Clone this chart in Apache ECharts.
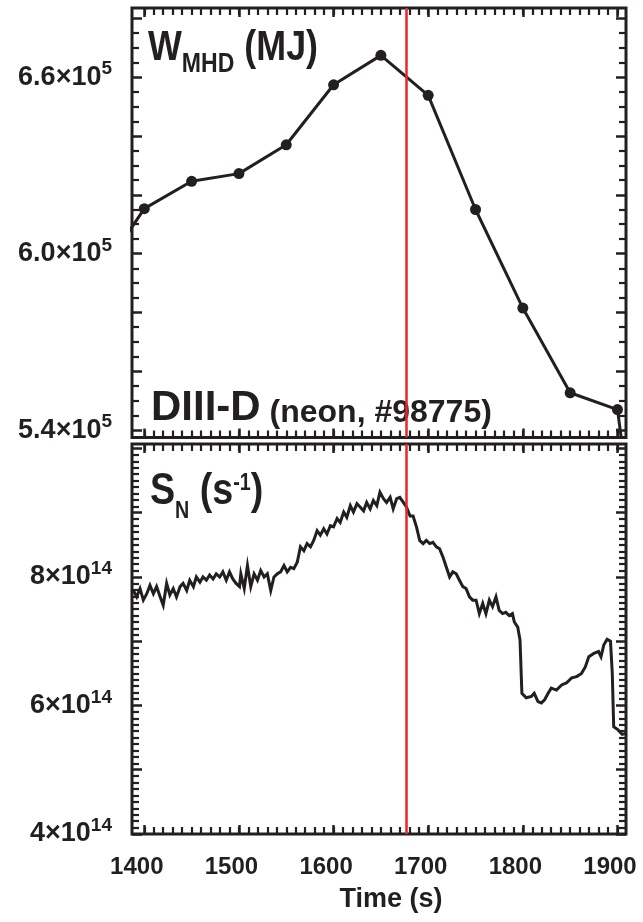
<!DOCTYPE html>
<html><head><meta charset="utf-8">
<script src="https://cdn.jsdelivr.net/npm/echarts@6/dist/echarts.min.js"></script>
<style>html,body{margin:0;padding:0;background:#fff}#c{width:643px;height:922px}</style>
</head><body><div id="c"></div>
<script>
// ---- data ----
const W_TIME = [1380,1400,1450,1500,1550,1600,1650,1700,1750,1800,1850,1900,1907];
const W_MHD  = [605700,615300,624600,627200,637000,657400,667400,653800,615000,581500,552700,547000,530000];

const SN_TIME = [1386,1388.5,1392,1395.5,1399,1402.6,1406,1409.6,1413,1416.8,1420,1423.6,1427,1430.6,1434,1437.8,1441,1444.8,1448,1451.9,1455,1458.8,1462,1465.6,1469,1472.7,1476,1479.7,1483,1486.6,1490,1493.5,1497,1500.6,1502,1505.6,1509,1512.5,1516,1519.6,1523,1526.6,1530,1533.6,1537,1540.6,1544,1547.6,1551,1554.6,1558,1561.6,1565,1568.6,1572,1575.6,1579,1582.6,1586,1589.6,1593,1596.6,1600,1603.7,1607,1610.7,1614,1617.7,1621,1624.7,1628,1631.7,1635,1638.7,1642,1645.7,1649,1652.7,1656,1659.8,1663,1666.7,1670,1673.7,1677,1680.8,1684,1687.6,1691,1694.6,1698,1701.6,1705,1708.6,1712,1715.6,1719,1722.6,1726,1729.6,1733,1736.6,1740,1743.6,1747,1750.6,1754,1757.6,1761,1764.6,1768,1771.6,1775,1778.6,1782,1785.6,1789,1791,1794.6,1797,1799,1803.6,1809,1812,1816,1819.5,1823,1826.7,1830,1835.5,1841,1846,1851.6,1856.9,1862,1866,1869.7,1875,1880,1882.6,1885.5,1889,1892.6,1894.5,1896,1900.6,1905,1910];
const SN_E14 = [7.80,7.79,7.69,7.82,7.64,7.74,7.87,7.74,7.85,7.69,7.56,7.90,7.72,7.82,7.69,7.85,7.90,7.79,7.95,7.85,8.00,7.92,8.00,7.95,8.03,7.97,8.05,8.00,8.08,7.95,8.08,7.97,7.90,7.85,8.05,7.82,8.18,7.85,8.05,7.95,8.10,8.00,8.05,7.79,8.00,8.05,8.08,8.18,8.08,8.15,8.13,8.23,8.47,8.41,8.52,8.47,8.57,8.72,8.65,8.75,8.67,8.80,8.78,8.91,8.85,9.01,8.93,9.11,9.01,9.14,9.09,9.03,9.16,9.06,9.19,9.11,9.32,9.22,9.16,9.24,9.06,9.22,9.24,9.16,9.09,8.95,8.95,8.78,8.57,8.52,8.57,8.52,8.54,8.47,8.44,8.31,8.16,8.00,8.08,8.05,7.95,7.85,7.82,7.69,7.64,7.64,7.43,7.59,7.43,7.64,7.54,7.69,7.48,7.43,7.45,7.40,7.43,7.30,7.22,7.02,6.19,6.12,6.14,6.19,6.06,6.04,6.09,6.19,6.27,6.24,6.32,6.35,6.43,6.45,6.50,6.60,6.76,6.81,6.84,6.76,6.94,7.03,7.00,6.50,5.67,5.62,5.55,5.57];

// tick layout (major step, minor step) and labelled values
const X_FIRST = 1400, X_LAST = 1900, X_STEP = 100, X_MINOR = 10;
const X_LABELS = [1400,1500,1600,1700,1800,1900];
const W_FIRST = 540000, W_LAST = 680000, W_STEP = 20000, W_MINOR_STEP = 5000;
const W_LABELS = [540000,600000,660000];
const SN_FIRST = 4, SN_LAST = 10, SN_STEP = 1, SN_MINOR_STEP = 0.1;
const SN_LABELS = [4,6,8];
const T_MARK = 1677;

// ---- layout / style ----
const X_MIN = 1387, X_MAX = 1909;
const W_MIN = 537500, W_MAX = 683500;
const SN_MIN = 4, SN_MAX = 10.07;
const INK = '#231f20';
const RED = '#e8262b';
const SANS = "'Liberation Sans',Arial,Helvetica,sans-serif";
const CW = 643;

const G_TOP = { left: 132, right: 17, top: 8, height: 429.5 };
const G_BOT = { left: 132, right: 17, top: 444, height: 390 };
const PW = CW - G_TOP.left - G_TOP.right;

function xpx(v) { return G_TOP.left + (v - X_MIN) / (X_MAX - X_MIN) * PW; }
function ypx(g, v, min, max) { return g.top + (max - v) / (max - min) * g.height; }
function framed(g) { return Object.assign({ show: true, borderColor: INK, borderWidth: 3, backgroundColor: 'transparent', outerBoundsMode: 'none', containLabel: false }, g); }

function hiddenAxis(grid) { return { type: 'value', gridIndex: grid, min: 0, max: 1, show: false }; }
function mainAxis(grid, pos, min, max, label) {
  return { type: 'value', gridIndex: grid, position: pos, min: min, max: max,
    axisLine: { show: false }, splitLine: { show: false }, axisTick: { show: false },
    axisLabel: label || { show: false } };
}
function tickAxis(grid, pos, span, step, len, width) {
  return { type: 'value', gridIndex: grid, position: pos, min: 0, max: span, interval: step,
    axisLine: { show: false }, splitLine: { show: false }, axisLabel: { show: false },
    axisTick: { show: true, inside: true, length: len, lineStyle: { color: INK, width: width } } };
}

const yRich = {
  m: { fontFamily: SANS, fontWeight: 'bold', fontSize: 27, color: INK },
  s: { fontFamily: SANS, fontWeight: 'bold', fontSize: 19, color: INK, padding: [0, 0, 16, 0] }
};
const xLabel = { show: true, customValues: X_LABELS, formatter: function (v) { return String(v); },
  fontFamily: SANS, fontWeight: 'bold', fontSize: 24, color: INK, margin: 21, padding: [0, 15, 0, 0] };
const wLabel = { show: true, customValues: W_LABELS, margin: 20, rich: yRich,
  formatter: function (v) { return '{m|' + (v / 1e5).toFixed(1) + '×10}{s|5}'; } };
const snLabel = { show: true, customValues: SN_LABELS, margin: 20, rich: yRich,
  formatter: function (v) { return '{m|' + v + '×10}{s|14}'; } };

const grids = [framed(G_TOP), framed(G_BOT)];
const xBottomMain = mainAxis(1, 'bottom', X_MIN, X_MAX, xLabel);
xBottomMain.name = 'Time (s)';
xBottomMain.nameLocation = 'middle';
xBottomMain.nameGap = 52;
xBottomMain.nameTextStyle = { fontFamily: SANS, fontWeight: 'bold', fontSize: 27, color: INK, padding: [0, 0, 0, 24] };
const xAxes = [mainAxis(0, 'bottom', X_MIN, X_MAX), xBottomMain];
const yAxes = [mainAxis(0, 'left', W_MIN, W_MAX, wLabel), mainAxis(1, 'left', SN_MIN, SN_MAX, snLabel)];
const holders = [];

// tick-only overlay grids: each carries ticks spaced widely enough to be drawn,
// several shifted copies together give the dense minor ticks of the frame
function addXOverlay(g, start, span, step, len, width) {
  const gi = grids.length;
  const l = xpx(start), r = xpx(start + span);
  grids.push({ left: l, width: r - l, top: g.top, height: g.height, show: false, outerBoundsMode: 'none', containLabel: false });
  const xi = xAxes.length;
  xAxes.push(tickAxis(gi, 'bottom', span, step, len, width), tickAxis(gi, 'top', span, step, len, width));
  const yi = yAxes.length; yAxes.push(hiddenAxis(gi));
  holders.push({ type: 'line', xAxisIndex: xi, yAxisIndex: yi, data: [], silent: true, symbol: 'none' });
}
function addYOverlay(g, min, max, start, span, step, len, width) {
  const gi = grids.length;
  const t = ypx(g, start + span, min, max), b = ypx(g, start, min, max);
  grids.push({ left: g.left, right: g.right, top: t, height: b - t, show: false, outerBoundsMode: 'none', containLabel: false });
  const yi = yAxes.length;
  yAxes.push(tickAxis(gi, 'left', span, step, len, width), tickAxis(gi, 'right', span, step, len, width));
  const xi = xAxes.length; xAxes.push(hiddenAxis(gi));
  holders.push({ type: 'line', xAxisIndex: xi, yAxisIndex: yi, data: [], silent: true, symbol: 'none' });
}
const MAJ_LEN = 10, MAJ_W = 2.5, MIN_LEN = 7, MIN_W = 2.2;
function xTicks(g) {
  addXOverlay(g, X_FIRST, X_LAST - X_FIRST, X_STEP, MAJ_LEN - 1, MAJ_W);
  for (let k = 0; k < 5; k++) {
    addXOverlay(g, X_FIRST + k * X_MINOR, k === 0 ? 500 : 450, 50, MIN_LEN, MIN_W);
  }
}
xTicks(G_TOP);
xTicks(G_BOT);
addYOverlay(G_TOP, W_MIN, W_MAX, W_FIRST, W_LAST - W_FIRST, W_STEP, MAJ_LEN, MAJ_W);
for (let k = 1; k < 4; k++) {
  addYOverlay(G_TOP, W_MIN, W_MAX, W_FIRST + k * W_MINOR_STEP, 120000, W_STEP, MIN_LEN, MIN_W);
}
addYOverlay(G_BOT, SN_MIN, SN_MAX, SN_FIRST, SN_LAST - SN_FIRST, SN_STEP, MAJ_LEN, MAJ_W);
for (let k = 1; k < 10; k++) {
  addYOverlay(G_BOT, SN_MIN, SN_MAX, Math.round((SN_FIRST + k * SN_MINOR_STEP) * 10) / 10, 5, SN_STEP, MIN_LEN, MIN_W);
}

const redLine = {
  silent: true, symbol: ['none', 'none'], label: { show: false },
  lineStyle: { color: RED, width: 2.5, type: 'solid' },
  data: [{ xAxis: T_MARK }]
};

const wData = W_TIME.map(function (t, i) {
  const item = { value: [t, W_MHD[i]] };
  if (i === 0 || i === W_TIME.length - 1) item.symbol = 'none';
  return item;
});
const snData = SN_TIME.map(function (t, i) { return [t, SN_E14[i]]; });

function label(x, y, sx, text, rich) {
  return { type: 'text', x: x, y: y, scaleX: sx, scaleY: 1, z: 0, silent: true,
    style: { text: text, rich: rich, align: 'left', verticalAlign: 'top', fill: INK,
      fontFamily: SANS, fontWeight: 'bold' } };
}
function tok(size, pad) { return { fontFamily: SANS, fontWeight: 'bold', fontSize: size, fill: INK, color: INK, padding: pad || 0 }; }

const option = {
  animation: false,
  backgroundColor: '#ffffff',
  grid: grids,
  xAxis: xAxes,
  yAxis: yAxes,
  graphic: { elements: [
    label(148, 19, 0.854, '{m|W}{s|MHD}{m| (MJ)}', { m: tok(42), s: tok(27, [32, 0, 0, 0]) }),
    label(151, 387, 1, '{m|DIII-D}{s| (neon, #98775)}', { m: tok(42), s: tok(32, [10, 0, 0, 0]) }),
    label(150, 460, 0.856, '{m|S}{s|N}{m| (s}{p|-1}{m|)}', { m: tok(44), s: tok(23, [40, 0, 0, 0]), p: tok(23, [0, 0, 16, 0]) })
  ] },
  series: [
    { type: 'line', xAxisIndex: 0, yAxisIndex: 0, z: 3, clip: true, data: wData,
      symbol: 'circle', symbolSize: 11, showSymbol: true, showAllSymbol: true,
      lineStyle: { color: INK, width: 3 }, itemStyle: { color: INK },
      markLine: redLine },
    { type: 'line', xAxisIndex: 1, yAxisIndex: 1, z: 3, clip: true, data: snData,
      showSymbol: false, symbol: 'none',
      lineStyle: { color: INK, width: 3, join: 'miter' },
      markLine: redLine }
  ].concat(holders)
};

const chart = echarts.init(document.getElementById('c'), null, { renderer: 'canvas' });
chart.setOption(option);
</script>
</body></html>
